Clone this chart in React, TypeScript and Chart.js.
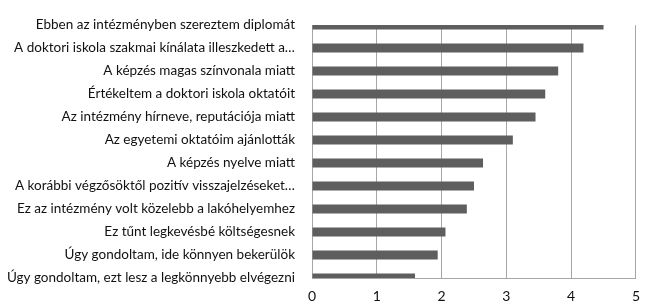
import React, { useEffect, useRef } from "react";
import { Chart, registerables } from "chart.js";

Chart.register(...registerables);

const categories = [
  "Ebben az intézményben szereztem diplomát",
  "A doktori iskola szakmai kínálata illeszkedett a…",
  "A képzés magas színvonala miatt",
  "Értékeltem a doktori iskola oktatóit",
  "Az intézmény hírneve, reputációja miatt",
  "Az egyetemi oktatóim ajánlották",
  "A képzés nyelve miatt",
  "A korábbi végzősöktől pozitív visszajelzéseket…",
  "Ez az intézmény volt közelebb a lakóhelyemhez",
  "Ez tűnt legkevésbé költségesnek",
  "Úgy gondoltam, ide könnyen bekerülök",
  "Úgy gondoltam, ezt lesz a legkönnyebb elvégezni",
];

const values = [4.5, 4.19, 3.8, 3.6, 3.45, 3.1, 2.64, 2.5, 2.39, 2.06, 1.94, 1.59];

const xTicks = [0, 1, 2, 3, 4, 5];

export default function App() {
  const ref = useRef<HTMLCanvasElement | null>(null);
  useEffect(() => {
    if (!ref.current) return;
    const font = { family: "Lato", size: 13.5 };
    const chart = new Chart(ref.current, {
      type: "bar",
      data: {
        labels: categories,
        datasets: [
          {
            data: values,
            backgroundColor: "#5e5e5e",
            borderWidth: 0,
            barPercentage: 0.39,
            categoryPercentage: 1,
          },
        ],
      },
      options: {
        indexAxis: "y",
        animation: false,
        responsive: false,
        maintainAspectRatio: false,
        layout: { padding: { top: 8, right: 10, left: 0, bottom: 0 } },
        plugins: { legend: { display: false }, tooltip: { enabled: false } },
        scales: {
          x: {
            min: 0,
            max: 5,
            afterBuildTicks: (s: any) => {
              s.ticks = xTicks.map((v) => ({ value: v }));
            },
            afterFit: (s: any) => {
              s.height = 30;
            },
            grid: { color: "#a6a6a6", lineWidth: 1, drawTicks: false },
            border: { color: "#a6a6a6", width: 1 },
            ticks: { color: "#111111", font: { family: "Lato", size: 14 }, padding: 10 },
          },
          y: {
            offset: false,
            afterFit: (s: any) => {
              s.width = 312;
            },
            grid: { display: false, drawTicks: false },
            border: { color: "#a6a6a6", width: 1 },
            ticks: { color: "#111111", font, padding: 17, autoSkip: false },
          },
        },
      },
    });
    return () => chart.destroy();
  }, []);
  return (
    <div style={{ position: "fixed", left: 0, top: 0, width: 650, height: 308, background: "#fff" }}>
      <canvas ref={ref} width={650} height={308} style={{ width: 650, height: 308 }} />
    </div>
  );
}
